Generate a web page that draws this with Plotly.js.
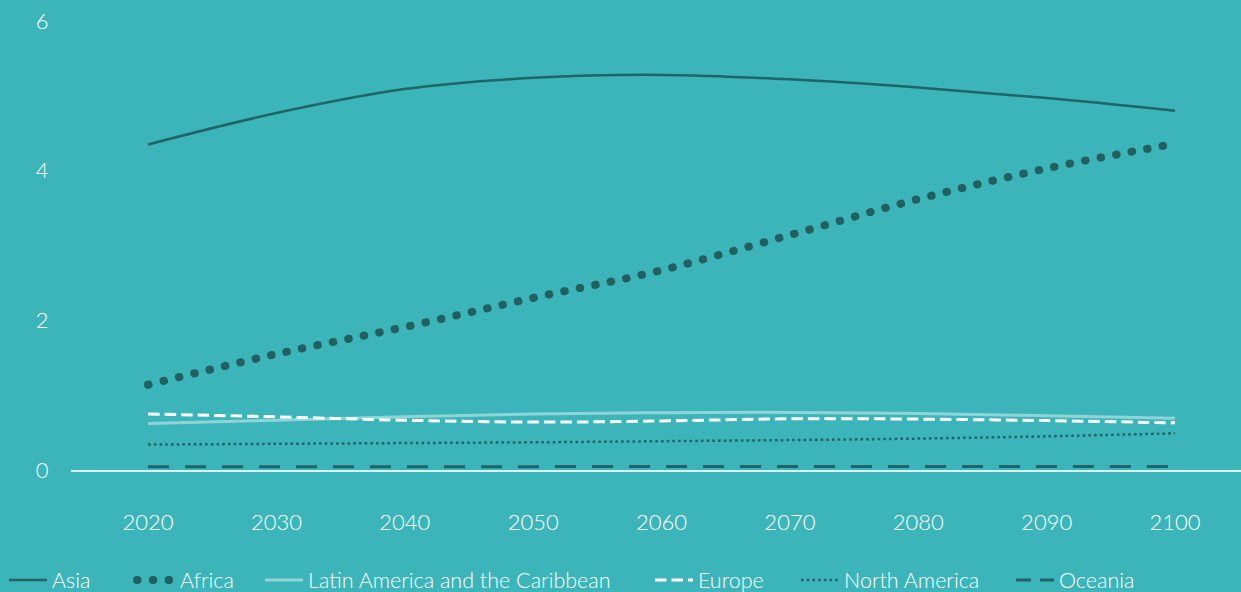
<!DOCTYPE html>
<html>
<head>
<meta charset="utf-8">
<script src="https://cdn.plot.ly/plotly-3.0.1.min.js"></script>
<style>
  html, body { margin: 0; padding: 0; background: #3cb5ba; }
  #chart { width: 1241px; height: 592px; }
</style>
</head>
<body>
<div id="chart"></div>
<script>
// Years (x values)
const years = [2020, 2030, 2040, 2050, 2060, 2070, 2080, 2090, 2100];

// Population by region (billions)
const asia          = [4.35, 4.77, 5.09, 5.24, 5.28, 5.22, 5.11, 4.97, 4.80];
const africa        = [1.14, 1.55, 1.91, 2.30, 2.67, 3.14, 3.62, 4.03, 4.36];
const latinAmerica  = [0.62, 0.665, 0.71, 0.75, 0.765, 0.77, 0.755, 0.725, 0.69];
const europe        = [0.75, 0.71, 0.665, 0.64, 0.655, 0.685, 0.68, 0.66, 0.63];
const northAmerica  = [0.34, 0.35, 0.36, 0.37, 0.385, 0.40, 0.42, 0.45, 0.49];
const oceania       = [0.043, 0.044, 0.045, 0.045, 0.046, 0.046, 0.046, 0.046, 0.046];

const seriesNames = ['Asia', 'Africa', 'Latin America and the Caribbean', 'Europe', 'North America', 'Oceania'];

// Tick labels
const xTicks = [2020, 2030, 2040, 2050, 2060, 2070, 2080, 2090, 2100];
const yTicks = [0, 2, 4, 6];

const DARK = '#1f6466';
const FONT = 'Lato, "Open Sans", sans-serif';

const traces = [
  { x: years, y: asia, name: seriesNames[0], legend: 'legend',
    line: { color: DARK, width: 2.5, shape: 'spline' } },
  { x: years, y: africa, name: seriesNames[1], legend: 'legend2',
    line: { color: '#22605f', width: 8, shape: 'spline', dash: '0.5px,15.3px' } },
  { x: years, y: latinAmerica, name: seriesNames[2], legend: 'legend3',
    line: { color: '#8fd4d6', width: 3, shape: 'spline' } },
  { x: years, y: europe, name: seriesNames[3], legend: 'legend4',
    line: { color: '#ffffff', width: 3, shape: 'spline', dash: '11.5px,5px' } },
  { x: years, y: northAmerica, name: seriesNames[4], legend: 'legend5',
    line: { color: DARK, width: 2.5, shape: 'spline', dash: '2.6px,3.1px' } },
  { x: years, y: oceania, name: seriesNames[5], legend: 'legend6',
    line: { color: DARK, width: 3, shape: 'spline', dash: '21px,16px' } }
].map(t => Object.assign({ type: 'scatter', mode: 'lines', hoverinfo: 'skip' }, t));

function legendAt(px) {
  return {
    orientation: 'h', xref: 'container', yref: 'container',
    x: px / 1241, xanchor: 'left', y: 12 / 592, yanchor: 'middle',
    bgcolor: 'rgba(0,0,0,0)', borderwidth: 0, itemwidth: 38,
    font: { family: FONT, size: 21.5, color: '#ffffff', weight: 300 }
  };
}

const layout = {
  width: 1241, height: 592,
  paper_bgcolor: '#3cb5ba', plot_bgcolor: '#3cb5ba',
  margin: { l: 71, r: 0, t: 21, b: 122 },
  showlegend: true,
  hovermode: false,
  font: { family: FONT, size: 20, color: '#ffffff', weight: 300 },
  xaxis: {
    range: [2014, 2105.14],
    tickvals: xTicks, ticktext: xTicks.map(String),
    showgrid: false, zeroline: false,
    showline: true, linecolor: '#d8f1f1', linewidth: 2,
    ticks: 'outside', ticklen: 32, tickcolor: 'rgba(0,0,0,0)',
    tickfont: { family: FONT, size: 22, color: '#ffffff', weight: 300 }
  },
  yaxis: {
    range: [0, 6],
    tickvals: yTicks, ticktext: yTicks.map(String),
    showgrid: false, zeroline: false, showline: false,
    ticks: 'outside', ticklen: 17, tickcolor: 'rgba(0,0,0,0)',
    tickfont: { family: FONT, size: 22, color: '#ffffff', weight: 300 }
  },
  legend: legendAt(4),
  legend2: legendAt(132),
  legend3: legendAt(260),
  legend4: legendAt(650),
  legend5: legendAt(796),
  legend6: legendAt(1011)
};

Plotly.newPlot('chart', traces, layout, { staticPlot: true, displayModeBar: false }).then(() => {
  document.querySelectorAll('#chart path').forEach(p => {
    const da = p.style.strokeDasharray || '';
    // round caps so the Africa pattern renders as round dots
    if (da.indexOf('15.3') !== -1) {
      p.style.strokeLinecap = 'round';
    }
    // Oceania legend sample shows two short dashes
    if (da.indexOf('21px') !== -1 && p.closest('.legend6')) {
      p.style.strokeDasharray = '15px,9px';
    }
  });
});
</script>
</body>
</html>
